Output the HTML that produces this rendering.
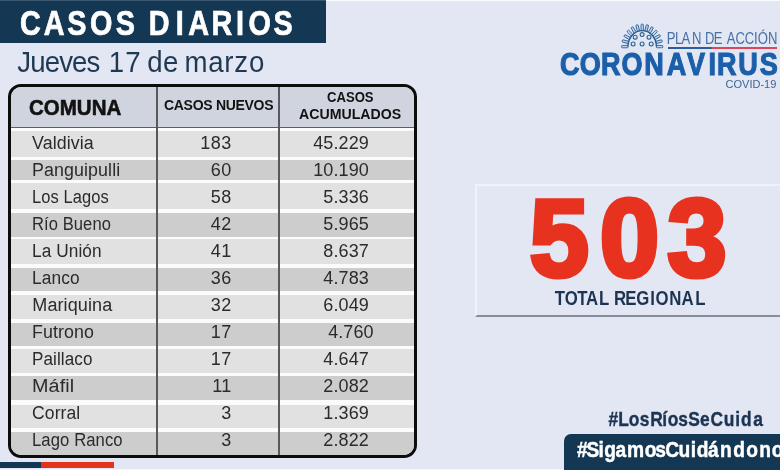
<!DOCTYPE html>
<html lang="es">
<head>
<meta charset="utf-8">
<title>Casos diarios</title>
<style>
*{margin:0;padding:0;box-sizing:border-box}
html,body{width:780px;height:470px;overflow:hidden}
body{position:relative;background:#e3e6f3;font-family:"Liberation Sans",Arial,sans-serif}
.a{position:absolute;white-space:nowrap;line-height:1}
#hbar{position:absolute;left:0;top:0;width:325.5px;height:42.5px;background:#143853}
#tbl{position:absolute;left:7.7px;top:84px;width:409.6px;height:374px;border:3px solid #0c0c0c;border-radius:13px;overflow:hidden;background:#fbfbfb}
#th{position:absolute;left:0;top:0;width:404px;height:41.4px;background:#d0d4de;border-bottom:1.4px solid #5a5e66}
.row{position:absolute;left:0;width:404px}
.l{background:#e1e1e1}
.d{background:#cdcdcd}
.vl{position:absolute;top:0;width:1.8px;height:368px;background:#58595c}
.hd{font-weight:bold;color:#121212}
.c{font-size:18px;color:#2b2b2b;letter-spacing:0.1px;transform-origin:0 0}
.n{text-align:right}
#tot{position:absolute;left:474.5px;top:184px;width:310px;height:133px;border-top:2px solid #eff1fb;border-left:2.5px solid #eff1fb;border-bottom:2.2px solid #868c9a}
#covid{left:725.6px;top:78.6px;font-size:11px;color:#3c6494}
#hbox{position:absolute;left:564.3px;top:434.2px;width:230px;height:40px;background:#143853;border-radius:7px 0 0 0}
#s1{position:absolute;left:0;top:462px;width:41px;height:6px;background:#143853}
#tx{position:absolute;left:0;top:0}
#s2{position:absolute;left:41px;top:462px;width:73px;height:6px;background:#e3331c}
</style>
</head>
<body>
<div id="hbar"></div>

<div id="tbl">
  <div id="th"></div>
  <div class="row l" style="top:44.0px;height:26.0px"></div>
  <div class="row d" style="top:72.5px;height:20.5px"></div>
  <div class="row l" style="top:95.7px;height:26.3px"></div>
  <div class="row d" style="top:126.0px;height:23.5px"></div>
  <div class="row l" style="top:151.7px;height:25.3px"></div>
  <div class="row d" style="top:181.0px;height:23.0px"></div>
  <div class="row l" style="top:208.0px;height:24.3px"></div>
  <div class="row d" style="top:236.0px;height:22.5px"></div>
  <div class="row l" style="top:261.7px;height:24.3px"></div>
  <div class="row d" style="top:288.6px;height:24.9px"></div>
  <div class="row l" style="top:318.0px;height:23.0px"></div>
  <div class="row d" style="top:344.5px;height:23.5px"></div>
  <div class="vl" style="left:145.2px"></div>
  <div class="vl" style="left:267.2px"></div>
</div>

<div class="a hd" style="left:28.95px;top:98.3px;font-size:21.5px;-webkit-text-stroke:0.6px #121212;transform:scaleX(0.954);transform-origin:0 0">COMUNA</div>
<div class="a hd" style="left:164px;top:98.1px;font-size:14px;letter-spacing:-0.3px">CASOS NUEVOS</div>
<div class="a hd" style="left:327.2px;top:90.4px;font-size:14.5px;transform:scaleX(0.904);transform-origin:0 0">CASOS</div>
<div class="a hd" style="left:299.1px;top:106.5px;font-size:14.5px;transform:scaleX(0.976);transform-origin:0 0">ACUMULADOS</div>

<div class="a c" style="left:32.3px;top:133.8px;transform:scaleX(0.99)">Valdivia</div>
<div class="a c" style="left:32.3px;top:160.8px;transform:scaleX(0.99)">Panguipulli</div>
<div class="a c" style="left:32.3px;top:187.8px;transform:scaleX(0.916)">Los Lagos</div>
<div class="a c" style="left:32.3px;top:214.8px;transform:scaleX(0.919)">Río Bueno</div>
<div class="a c" style="left:32.3px;top:241.8px;transform:scaleX(0.957)">La Unión</div>
<div class="a c" style="left:32.3px;top:268.8px;transform:scaleX(0.962)">Lanco</div>
<div class="a c" style="left:32.3px;top:295.8px">Mariquina</div>
<div class="a c" style="left:32.3px;top:322.8px;transform:scaleX(0.99)">Futrono</div>
<div class="a c" style="left:32.3px;top:349.8px;transform:scaleX(0.949)">Paillaco</div>
<div class="a c" style="left:32.3px;top:376.8px;transform:scaleX(1.097)">Máfil</div>
<div class="a c" style="left:32.3px;top:403.8px;transform:scaleX(0.975)">Corral</div>
<div class="a c" style="left:32.3px;top:430.8px;transform:scaleX(0.925)">Lago Ranco</div>
<div class="a c n" style="right:548.2px;top:133.8px;letter-spacing:0.5px">183</div>
<div class="a c n" style="right:548.2px;top:160.8px;letter-spacing:0.5px">60</div>
<div class="a c n" style="right:548.2px;top:187.8px;letter-spacing:0.5px">58</div>
<div class="a c n" style="right:548.2px;top:214.8px;letter-spacing:0.5px">42</div>
<div class="a c n" style="right:548.2px;top:241.8px;letter-spacing:0.5px">41</div>
<div class="a c n" style="right:548.2px;top:268.8px;letter-spacing:0.5px">36</div>
<div class="a c n" style="right:548.2px;top:295.8px;letter-spacing:0.5px">32</div>
<div class="a c n" style="right:548.2px;top:322.8px;letter-spacing:0.5px">17</div>
<div class="a c n" style="right:548.2px;top:349.8px;letter-spacing:0.5px">17</div>
<div class="a c n" style="right:548.2px;top:376.8px;letter-spacing:0.5px">11</div>
<div class="a c n" style="right:548.2px;top:403.8px;letter-spacing:0.5px">3</div>
<div class="a c n" style="right:548.2px;top:430.8px;letter-spacing:0.5px">3</div>
<div class="a c n" style="right:411.1px;top:133.8px">45.229</div>
<div class="a c n" style="right:411.1px;top:160.8px">10.190</div>
<div class="a c n" style="right:411.1px;top:187.8px">5.336</div>
<div class="a c n" style="right:411.1px;top:214.8px">5.965</div>
<div class="a c n" style="right:411.1px;top:241.8px">8.637</div>
<div class="a c n" style="right:411.1px;top:268.8px">4.783</div>
<div class="a c n" style="right:411.1px;top:295.8px">6.049</div>
<div class="a c n" style="right:406.3px;top:322.8px">4.760</div>
<div class="a c n" style="right:411.1px;top:349.8px">4.647</div>
<div class="a c n" style="right:411.1px;top:376.8px">2.082</div>
<div class="a c n" style="right:411.1px;top:403.8px">1.369</div>
<div class="a c n" style="right:411.1px;top:430.8px">2.822</div>

<svg style="position:absolute;left:615px;top:18px" width="52" height="34" viewBox="615 18 52 34">
  <g fill="#bcd9f2" stroke="#2a5a90" stroke-width="0.85">
    <rect x="0" y="-1.15" width="6.4" height="2.3" rx="0.6" transform="translate(628.00 46.60) rotate(-180)"/>
    <rect x="0" y="-1.15" width="6.4" height="2.3" rx="0.6" transform="translate(628.48 42.46) rotate(-165)"/>
    <rect x="0" y="-1.15" width="6.4" height="2.3" rx="0.6" transform="translate(629.90 38.60) rotate(-150)"/>
    <rect x="0" y="-1.15" width="6.4" height="2.3" rx="0.6" transform="translate(632.16 35.29) rotate(-135)"/>
    <rect x="0" y="-1.15" width="6.4" height="2.3" rx="0.6" transform="translate(635.10 32.74) rotate(-120)"/>
    <rect x="0" y="-1.15" width="6.4" height="2.3" rx="0.6" transform="translate(638.52 31.15) rotate(-105)"/>
    <rect x="0" y="-1.15" width="6.4" height="2.3" rx="0.6" transform="translate(642.20 30.60) rotate(-90)"/>
    <rect x="0" y="-1.15" width="6.4" height="2.3" rx="0.6" transform="translate(645.88 31.15) rotate(-75)"/>
    <rect x="0" y="-1.15" width="6.4" height="2.3" rx="0.6" transform="translate(649.30 32.74) rotate(-60)"/>
    <rect x="0" y="-1.15" width="6.4" height="2.3" rx="0.6" transform="translate(652.24 35.29) rotate(-45)"/>
    <rect x="0" y="-1.15" width="6.4" height="2.3" rx="0.6" transform="translate(654.50 38.60) rotate(-30)"/>
    <rect x="0" y="-1.15" width="6.4" height="2.3" rx="0.6" transform="translate(655.92 42.46) rotate(-15)"/>
    <rect x="0" y="-1.15" width="6.4" height="2.3" rx="0.6" transform="translate(656.40 46.60) rotate(0)"/>
  </g>
  <path d="M628 46.6 A14.2 16 0 0 1 656.4 46.6" fill="none" stroke="#2a5a90" stroke-width="1.4"/>
  <g fill="#d4e9f8" stroke="#2f6190" stroke-width="1.1">
    <circle cx="635.2" cy="37.2" r="1.95"/>
    <circle cx="642.1" cy="34.6" r="1.95"/>
    <circle cx="649" cy="37.2" r="1.95"/>
    <circle cx="633.1" cy="44" r="1.95"/>
    <circle cx="642.1" cy="44" r="1.95"/>
    <circle cx="651.2" cy="44" r="1.95"/>
  </g>
</svg>
<div style="position:absolute;left:667.7px;top:47px;width:44.6px;height:2px;background:#2c5e9e"></div>
<div style="position:absolute;left:712.3px;top:47px;width:64.7px;height:2px;background:#d9485a"></div>
<div class="a" id="covid">COVID-19</div>

<div id="tot"></div>

<div id="hbox"></div>

<div style="position:absolute;left:0;top:0;width:780px;height:1px;background:#fafbff"></div>
<div style="position:absolute;left:0;top:0;width:325.5px;height:1px;background:#3a5872"></div>
<div style="position:absolute;left:0;top:469px;width:564px;height:1px;background:#f4f5fb"></div>
<div id="s1"></div>
<div id="s2"></div>
<svg id="tx" width="780" height="470" viewBox="0 0 780 470">
<text x="23.71 52.06 80.16 107.23 137.82 159.82 177.29 209.24 224.13 251.98 281.06 296.03 325.79" y="35.5" style="font-family:'Liberation Sans',Arial,sans-serif;font-size:34.3px;font-weight:bold" fill="#fff" stroke="#fff" stroke-width="0.7" transform="scale(0.8395 1)">CASOS DIARIOS</text>
<text x="18.52 32.29 47.72 63.15 76.92 92.35 106.12 115.98 133.70 151.42 157.19 173.91 190.63 196.73 222.11 239.34 249.98 265.54" y="72.4" style="font-family:'Liberation Sans',Arial,sans-serif;font-size:29.5px" fill="#1f3953" transform="scale(0.9375 1)">Jueves 17 de marzo</text>
<text x="794.65 804.47 812.07 824.50 834.50 840.17 850.42 860.42 865.93 876.34 887.36 898.42 902.82 915.18" y="44.1" style="font-family:'Liberation Sans',Arial,sans-serif;font-size:15.6px" fill="#4571a6" transform="scale(0.8392 1)">PLAN DE ACCIÓN</text>
<text x="633.38 655.90 680.00 703.02 728.80 754.36 777.15 801.59 811.17 835.13 859.32" y="75.4" style="font-family:'Liberation Sans',Arial,sans-serif;font-size:30.6px;font-weight:bold" fill="#1b5fa9" stroke="#1b5fa9" stroke-width="1.1" transform="scale(0.8840 1)">CORONAVIRUS</text>
<text x="548.63 621.57 691.46" y="276" style="font-family:'Liberation Sans',Arial,sans-serif;font-size:110px;font-weight:bold" fill="#e6321e" stroke="#e6321e" stroke-width="5.2" transform="scale(0.9655 1)">503</text>
<text x="649.76 661.61 676.12 686.33 701.71 712.71 719.10 732.48 745.19 761.55 767.85 783.93 798.31 814.51" y="305.3" style="font-family:'Liberation Sans',Arial,sans-serif;font-size:19.7px;font-weight:bold" fill="#1c3452" transform="scale(0.8537 1)">TOTAL REGIONAL</text>
<text x="720.78 732.40 744.89 757.83 770.31 784.38 791.09 803.44 815.31 829.14 841.56 857.24 870.99 877.62 892.33" y="426.5" style="font-family:'Liberation Sans',Arial,sans-serif;font-size:20.6px;font-weight:bold" fill="#1c3452" stroke="#1c3452" stroke-width="0.4" transform="scale(0.8442 1)">#LosRíosSeCuida</text>
<text x="661.12 672.11 685.78 692.59 705.43 718.60 738.85 750.93 762.44 777.63 791.56 798.55 811.50 825.08 840.38 855.18 870.00 884.34 898.31" y="456.6" style="font-family:'Liberation Sans',Arial,sans-serif;font-size:22px;font-weight:bold" fill="#fff" stroke="#fff" stroke-width="0.5" transform="scale(0.8726 1)">#SigamosCuidándonos</text>
</svg>
</body>
</html>
